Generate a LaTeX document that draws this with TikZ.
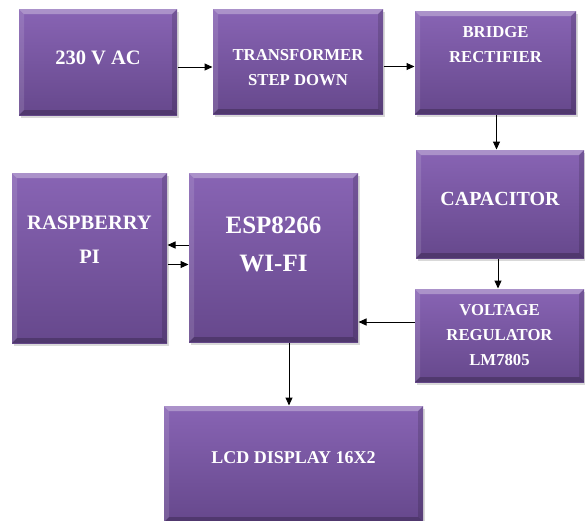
\documentclass[tikz,border=0pt]{standalone}
\usepackage{fontspec}
\setmainfont{Liberation Serif}
\usetikzlibrary{arrows.meta,positioning,shadows,calc}

\definecolor{blokTop}{RGB}{136,100,180}
\definecolor{blokBot}{RGB}{102,72,140}

\begin{document}
\begin{tikzpicture}[x=1pt,y=-1pt,
  blok/.style={rectangle,inner sep=0pt,top color=blokTop,bottom color=blokBot,
    drop shadow={shadow xshift=2pt,shadow yshift=-3pt,opacity=.3},
    path picture={
      \fill[white,opacity=.3] (path picture bounding box.north west) -- (path picture bounding box.north east)
        -- ([shift={(-5pt,-5pt)}]path picture bounding box.north east) -- ([shift={(5pt,-5pt)}]path picture bounding box.north west) -- cycle;
      \fill[white,opacity=.12] (path picture bounding box.north west) -- ([shift={(5pt,-5pt)}]path picture bounding box.north west)
        -- ([shift={(5pt,5pt)}]path picture bounding box.south west) -- (path picture bounding box.south west) -- cycle;
      \fill[black,opacity=.15] (path picture bounding box.north east) -- ([shift={(-5pt,-5pt)}]path picture bounding box.north east)
        -- ([shift={(-5pt,5pt)}]path picture bounding box.south east) -- (path picture bounding box.south east) -- cycle;
      \fill[black,opacity=.22] (path picture bounding box.south west) -- (path picture bounding box.south east)
        -- ([shift={(-5pt,5pt)}]path picture bounding box.south east) -- ([shift={(5pt,5pt)}]path picture bounding box.south west) -- cycle;
    }},
  txt/.style 2 args={text=white,align=center,inner sep=0pt,font=\fontsize{#1}{#2}\selectfont\bfseries},
  >={Triangle[length=8pt,width=7pt]}, line width=1pt]
\useasboundingbox (0,0) rectangle (585,520);
\clip (0,0) rectangle (585,520);

% power chain
\node[blok,minimum width=158pt,minimum height=106pt] (ac) at (98,62) {};
\node[blok,minimum width=170pt,minimum height=105pt] (tr) at (298,61.5) {};
\node[blok,minimum width=161pt,minimum height=103pt] (br) at (495.5,62.5) {};
\node[blok,minimum width=168pt,minimum height=108pt] (cap) at (500,204) {};
\node[blok,minimum width=169pt,minimum height=93pt] (vr) at (499.5,335.5) {};
% controller side
\node[blok,minimum width=155pt,minimum height=170pt] (rpi) at (89.5,258) {};
\node[blok,minimum width=169pt,minimum height=169pt] (esp) at (273.5,257.5) {};
\node[blok,minimum width=259pt,minimum height=116pt] (lcd) at (293.5,464) {};

\node[txt={20.5}{31}] (acT) at ([yshift=4pt]ac.center) {230 V AC};
\node[txt={16.7}{25}] (trT) at ([yshift=-6pt]tr.center) {TRANSFORMER\\STEP DOWN};
\node[txt={16.7}{25}] (brT) at ([yshift=18pt]br.center) {BRIDGE\\RECTIFIER};
\node[txt={20}{30}] (capT) at ([yshift=5pt]cap.center) {CAPACITOR};
\node[txt={16.7}{25}] (vrT) at (vr.center) {VOLTAGE\\REGULATOR\\LM7805};
\node[txt={20.5}{34}] (rpiT) at ([yshift=18pt]rpi.center) {RASPBERRY\\PI};
\node[txt={25}{38}] (espT) at ([yshift=13pt]esp.center) {ESP8266\\WI-FI};
\node[txt={18}{27}] (lcdT) at ([yshift=6pt]lcd.center) {LCD DISPLAY 16X2};

\draw[->] ([yshift=-5pt]ac.east) -- ([yshift=-5pt]ac.east -| tr.west);
\draw[->] ([yshift=-5pt]tr.east) -- ([yshift=-5pt]tr.east -| br.west);
\draw[->] ([xshift=1pt]br.south) -- ([xshift=1pt]br.south |- cap.north);
\draw[->] ([xshift=-2pt]cap.south) -- ([xshift=-2pt]cap.south |- vr.north);
\draw[->] ([yshift=13.5pt]vr.west) -- ([yshift=13.5pt]vr.west -| esp.east);
\draw[->] ([yshift=12.5pt]esp.west) -- ([yshift=12.5pt]esp.west -| rpi.east);
\draw[->] ([yshift=-6.5pt]rpi.east) -- ([yshift=-6.5pt]rpi.east -| esp.west);
\draw[->] ([xshift=15.5pt]esp.south) -- ([xshift=15.5pt]esp.south |- lcd.north);
\end{tikzpicture}
\end{document}
